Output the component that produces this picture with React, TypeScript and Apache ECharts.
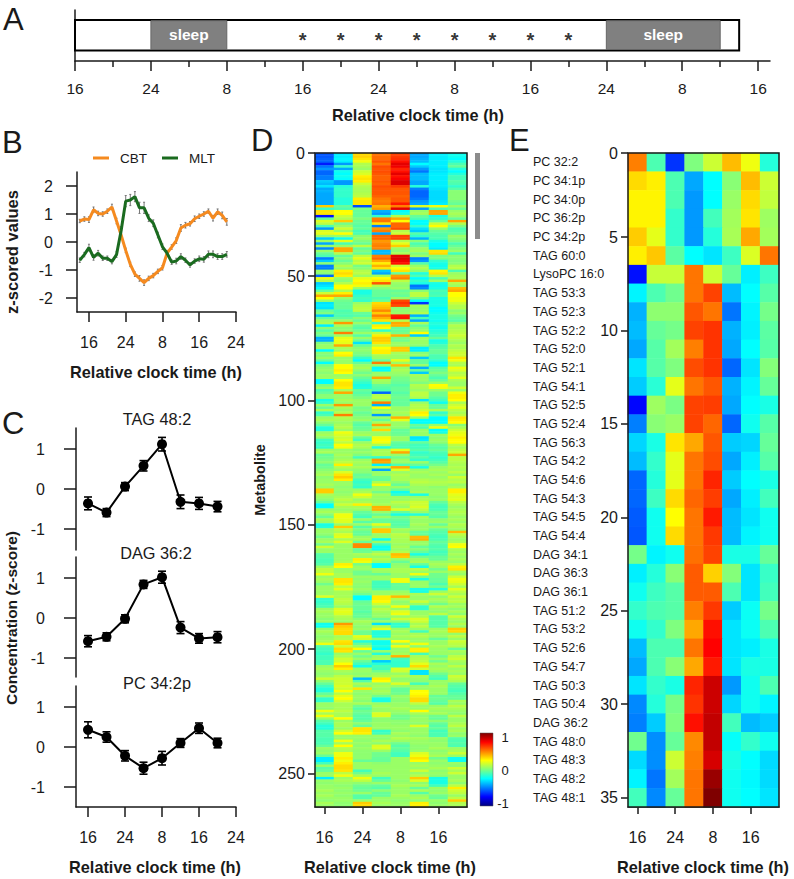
import React, { useEffect, useRef } from "react";
import * as echarts from "echarts";

const FONT = "'Liberation Sans', Arial, sans-serif";
const INK = "#1a1a1a";

// Panel A
const scheduleTicks = [16, 24, 32, 40, 48, 56, 64, 72, 80, 88];
const scheduleMinor = [20, 28, 36, 44, 52, 60, 68, 76, 84];
const scheduleSpan = [16, 86];
const sleepBlocks = [[24, 32], [72, 84]];
const starHours = [40, 44, 48, 52, 56, 60, 64, 68];

// Panel B
const rhythmHours = [14,15,16,17,18,19,20,21,22,23,24,25,26,27,28,29,30,31,32,33,34,35,36,37,38,39,40,41,42,43,44,45,46];
const cbt = [0.75,0.82,0.8,1.15,1.02,1.0,1.1,1.25,0.75,0.25,-0.3,-0.8,-1.15,-1.3,-1.45,-1.3,-1.2,-1.05,-0.92,-0.4,-0.18,0.05,0.5,0.6,0.65,0.83,0.92,1.0,1.1,0.85,1.08,0.95,0.72];
const mlt = [-0.65,-0.45,-0.2,-0.55,-0.4,-0.58,-0.58,-0.7,-0.45,0.4,1.46,1.5,1.62,1.22,1.22,0.85,0.67,0.25,-0.17,-0.4,-0.72,-0.68,-0.52,-0.65,-0.82,-0.68,-0.6,-0.62,-0.44,-0.44,-0.52,-0.52,-0.44];
const cbtErr = [0.06,0.08,0.1,0.1,0.08,0.08,0.08,0.1,0.1,0.08,0.08,0.08,0.08,0.1,0.1,0.08,0.08,0.08,0.08,0.1,0.08,0.1,0.12,0.1,0.08,0.1,0.08,0.08,0.08,0.1,0.1,0.12,0.12];
const mltErr = [0.08,0.08,0.12,0.1,0.1,0.08,0.08,0.08,0.1,0.15,0.2,0.2,0.18,0.2,0.2,0.12,0.12,0.1,0.1,0.08,0.08,0.1,0.1,0.08,0.08,0.08,0.1,0.1,0.12,0.12,0.1,0.1,0.1];
const rhythmTicks = [16, 24, 32, 40, 48];

// Panel C
const sampleHours = [16, 20, 24, 28, 32, 36, 40, 44];
const tag482 = [-0.36,-0.59,0.06,0.58,1.12,-0.32,-0.36,-0.44];
const tag482Err = [0.16,0.1,0.1,0.13,0.17,0.17,0.15,0.13];
const dag362 = [-0.58,-0.47,-0.02,0.84,1.02,-0.24,-0.51,-0.48];
const dag362Err = [0.14,0.1,0.1,0.1,0.15,0.15,0.12,0.14];
const pc342p = [0.43,0.25,-0.22,-0.53,-0.28,0.1,0.47,0.1];
const pc342pErr = [0.2,0.13,0.13,0.15,0.17,0.11,0.13,0.12];

// Panels D and E
const heatColumns = ["16", "", "24", "", "8", "", "16", ""];
const jetColors = ["#00007f", "#0000ff", "#007fff", "#00ffff", "#7fff7f", "#ffff00", "#ff7f00", "#ff0000", "#7f0000"];

// Panel D values, in hundredths of a z-score
const metabolitesA = [
[-58,-28,32,52,62,-42,-28,-22],[-58,-28,34,54,64,-42,-28,-22],[-56,-26,30,54,66,-40,-28,-25],[-55,-28,22,58,72,-38,-28,-18],[-70,-45,10,52,80,-25,-28,-10],
[-52,-15,8,60,78,-35,-28,-5],[-45,-42,5,58,68,-45,-30,-18],[-55,-22,15,60,72,-52,-30,-25],[-55,-25,18,58,80,-38,-28,-18],[-50,-22,28,56,72,-38,-28,-12],
[-50,-25,30,56,76,-38,-28,-12],[-35,-45,28,58,82,-42,-28,-8],[-38,-45,15,56,82,-42,-28,-10],[-30,-18,10,60,64,-18,-28,-15],[-42,-15,8,58,58,-50,-30,-8],
[-40,-15,8,58,58,-55,-32,2],[-42,-15,10,58,58,-55,-32,2],[-42,-15,12,56,56,-55,-32,2],[-42,-18,28,52,58,-52,-32,2],[-42,-18,30,50,58,-45,-30,-2],
[-42,-18,30,52,70,-42,-28,-5],[35,-5,-60,40,50,18,22,5],[-15,-10,0,45,80,-45,-10,-5],[30,25,-5,-40,-25,5,42,5],[30,25,-5,-45,-20,8,42,8],
[-72,15,-5,-15,10,-5,-20,5],[-5,10,0,50,42,-10,-15,-5],[18,35,-5,52,25,-25,-5,42],[12,-2,-5,30,55,-25,15,10],[-10,5,-8,-50,55,-15,25,0],
[-45,15,-5,45,60,-30,5,-10],[18,5,-12,50,10,-35,-5,-8],[20,25,-10,-42,15,-8,-8,-5],[5,5,2,55,62,-15,-10,5],[-35,-22,5,55,62,-40,-10,2],
[5,20,0,45,10,2,-20,-2],[-42,-10,-5,48,20,-10,-25,-10],[5,5,12,50,35,-5,-25,-5],[-48,42,-5,48,5,5,-28,0],[5,42,0,-38,2,8,30,5],
[-5,10,-5,-38,8,0,32,-12],[-10,-5,12,50,80,5,0,2],[-50,2,20,55,82,-50,0,2],[-35,-5,12,42,78,-45,-15,0],[2,2,15,28,72,-8,-20,2],
[-50,10,-2,40,15,5,-22,10],[-50,5,2,30,25,10,-20,12],[5,28,10,-35,30,3,27,-10],[2,32,12,-42,-5,-18,30,5],[-55,28,5,8,45,-10,10,8],
];
const metabolitesB = [
[22,5,20,25,50,-25,-10,8],[10,2,25,30,12,-15,5,42],[-35,10,28,58,5,-20,-20,10],[-30,25,22,10,3,-52,-22,5],[-25,25,5,2,5,-48,-20,38],
[-5,8,-20,-5,-5,2,-10,42],[15,28,-20,-5,-2,12,-12,25],[42,42,-15,-5,-5,12,-10,25],[25,5,-12,-10,5,-2,-20,22],[5,-3,-15,-5,60,-25,-20,22],
[-30,-5,5,32,65,-65,-20,15],[-28,-5,10,35,60,8,-20,10],[-30,-5,12,38,2,5,-25,10],[-5,-10,12,48,3,5,-25,2],[0,-8,-5,35,5,10,-22,5],
[-35,-10,-8,50,70,-40,-20,-2],[-5,-5,2,40,72,-10,-20,-5],[5,5,-5,30,10,-42,-22,-8],[8,45,5,-15,42,8,-18,2],[-28,8,-5,28,40,-5,-20,10],
[2,2,-8,25,-5,2,-22,8],[-8,3,-3,-15,-5,5,-18,10],[0,50,5,12,-2,25,-15,12],[-5,5,-8,28,40,-35,-12,15],[-40,20,5,35,0,8,-5,12],
[-40,22,-5,35,-3,5,-20,8],[0,20,-30,30,5,5,-18,5],[5,42,-5,12,5,3,-10,10],[5,8,2,25,35,-28,-8,8],[-25,5,3,28,35,-28,-5,12],
[2,25,0,28,8,2,-5,15],[0,28,-3,8,5,5,-10,15],[5,5,-15,5,5,-35,-10,30],[-5,5,-25,-5,20,-5,-15,22],[-25,5,-5,50,5,-5,-25,10],
[-2,25,5,5,38,5,-25,8],[3,25,8,-25,5,-40,-8,22],[5,28,3,-25,8,-5,-5,18],[2,25,-3,5,5,-35,0,10],[5,5,3,5,3,8,-5,12],
[5,8,-5,42,-2,5,-10,20],[-25,25,-10,8,-3,5,-5,8],[-25,30,-15,5,-5,0,5,5],[0,30,-20,-5,-8,10,25,5],[5,28,-18,-8,-5,8,22,15],
[-10,8,-5,-10,-5,5,5,5],[-5,42,-8,-55,-8,12,-3,22],[2,5,-5,10,-5,12,-3,28],[2,5,0,12,-3,8,-8,28],[-20,8,5,5,-5,-30,-12,25],
];
const metabolitesC = [
[-15,5,5,50,-5,5,-22,8],[5,45,5,-40,-5,10,-5,15],[-5,8,-2,25,5,10,-5,20],[8,5,0,5,5,15,8,12],[-15,10,-5,8,8,28,-15,8],
[-10,50,-2,-45,5,25,-8,12],[5,10,2,5,40,5,-25,30],[8,8,5,-5,20,-25,-25,28],[2,5,-5,8,5,-25,-25,25],[-5,8,-8,42,5,-5,5,2],
[-18,10,-5,8,3,-10,22,8],[-18,5,-3,32,-5,5,-25,15],[5,22,5,5,-5,5,-20,20],[8,18,8,5,-3,5,5,22],[3,15,-5,22,5,-30,3,28],
[-12,18,-12,25,5,-28,5,25],[-15,12,5,22,-5,-5,3,25],[-12,25,10,8,-8,-12,-5,12],[-15,22,8,-18,-10,-12,-8,8],[5,5,2,8,20,-8,-5,12],
[8,5,5,8,42,-15,-10,15],[-5,8,0,8,5,-12,-12,42],[-3,5,-12,-15,-3,-8,-15,12],[0,8,5,45,5,-15,-12,12],[3,12,8,42,5,5,-8,10],
[-5,28,5,-28,-10,-5,-2,8],[-3,10,8,10,42,-20,5,10],[2,5,3,-42,18,5,8,8],[5,18,2,5,5,8,5,12],[8,30,-5,5,10,5,8,5],
[3,35,-3,-3,8,5,5,15],[5,28,-12,-5,8,10,8,10],[5,5,-15,8,3,12,10,12],[8,5,-12,22,-5,8,8,5],[5,3,-15,5,5,5,3,8],
[35,5,5,5,-5,5,5,28],[35,3,8,-3,-22,8,5,28],[8,5,22,8,-15,-20,5,20],[5,8,15,5,5,5,3,18],[2,12,5,5,5,8,5,20],
[-5,8,8,5,12,15,-5,12],[-25,15,28,8,8,15,-10,8],[-25,8,8,40,5,18,-12,5],[5,5,5,40,18,12,-10,8],[8,8,-5,5,-5,5,-5,10],
[2,22,-8,-5,-20,-18,-5,8],[-5,22,-12,5,-2,8,-8,5],[8,20,5,-5,-5,5,3,8],[5,18,-8,-5,-8,5,5,5],[-20,5,5,20,-8,8,-5,10],
];
const metabolitesD = [
[-18,35,-8,5,-5,5,5,8],[5,12,0,35,8,5,-5,5],[5,8,-5,35,5,-5,-8,38],[3,18,-5,5,12,-5,-10,12],[-3,20,5,5,10,38,-12,8],
[5,8,8,-22,8,40,-10,5],[8,18,-5,5,8,5,-5,8],[-3,5,48,-12,5,5,-8,22],[15,5,48,-22,8,-5,-10,25],[5,5,-5,-22,5,2,-8,8],
[5,5,-3,5,10,-5,-12,5],[-8,5,8,12,38,-20,-10,8],[-8,5,5,5,35,-3,-5,5],[-10,5,28,10,5,5,-5,8],[-10,8,22,5,-5,8,5,5],
[-8,28,-2,-25,3,-5,8,12],[5,25,5,-25,5,-20,5,28],[12,5,5,8,8,12,-3,30],[12,5,-3,5,8,5,5,8],[22,8,-3,-5,5,22,-3,5],
[5,8,5,5,5,-2,-3,15],[8,30,3,5,22,-20,-5,22],[5,30,5,-12,22,5,-5,20],[-3,28,3,-12,-5,5,-10,15],[5,12,2,-12,-5,5,-3,8],
[5,20,5,-8,-5,-20,-18,20],[5,8,2,5,5,-20,5,12],[5,8,-3,5,8,8,15,8],[18,8,-25,28,38,5,3,15],[-15,12,-25,28,10,5,8,10],
[-15,12,-5,26,3,15,5,12],[-12,10,-3,15,5,5,-3,5],[-10,5,-5,5,22,-15,10,8],[5,18,-5,12,5,-15,5,3],[8,20,-8,8,18,5,3,8],
[5,18,-5,5,22,5,12,3],[5,10,-5,5,5,8,-8,15],[2,8,2,-5,15,18,-8,8],[5,5,8,5,3,15,-8,5],[-22,45,5,-30,-15,8,-8,10],
[-22,35,3,8,-15,12,-8,5],[3,32,5,20,5,5,5,35],[8,32,-3,-18,8,-12,8,32],[5,32,-3,-18,5,8,5,5],[3,8,20,-18,8,10,5,12],
[5,10,15,5,5,5,-5,5],[8,30,-18,-22,25,5,5,15],[22,32,-5,-22,5,22,5,12],[-8,15,5,-18,22,3,8,10],[-12,32,25,-25,5,28,5,-5],
];
const metabolitesE = [
[-12,30,-5,5,5,28,5,8],[-15,5,5,-18,8,-12,5,5],[-12,8,-3,5,40,8,-3,12],[-12,15,5,8,-12,10,5,15],[-10,15,-5,-35,-15,12,-3,8],
[-10,25,-12,-18,-15,20,8,5],[5,35,-22,-10,-15,32,5,12],[8,28,5,-12,18,15,8,5],[5,8,5,-3,15,-30,5,8],[3,5,3,5,5,-30,-3,5],
[5,12,5,8,10,8,-8,15],[15,15,-38,28,3,5,-12,12],[3,15,-8,25,5,3,5,8],[-5,15,8,5,18,-12,5,-5],[-12,18,3,8,5,5,8,-8],
[-18,15,30,5,-5,5,5,-10],[-18,25,5,8,-5,25,5,-12],[-5,12,3,5,-3,25,5,-8],[2,20,5,-3,5,28,-5,-5],[-15,25,5,-20,3,32,-3,-5],
[-15,15,2,-20,2,32,-5,8],[5,8,8,5,5,12,-8,5],[5,8,-3,8,5,5,5,12],[3,8,-8,5,8,5,8,8],[22,12,-3,5,5,25,5,5],
[8,8,-5,18,3,8,8,3],[22,8,-8,18,-3,3,-3,12],[5,25,-8,3,-3,5,-5,5],[-8,5,-5,3,3,5,3,5],[-12,8,3,5,3,3,-5,8],
[-18,8,-5,5,5,18,-8,12],[-18,5,30,5,5,5,-5,5],[-8,15,30,-15,3,5,-12,8],[-8,25,28,-12,8,5,-10,3],[-8,5,5,5,5,3,-10,5],
[-10,5,5,3,10,8,5,-8],[-10,22,3,8,5,5,3,-10],[-10,8,5,3,-3,5,5,-8],[-5,25,3,18,-8,3,5,-10],[5,10,5,18,-5,3,8,5],
[3,8,3,5,-8,5,3,8],[5,22,3,-3,-12,18,5,15],[-5,22,3,-3,-12,22,8,5],[-28,28,3,-5,5,30,-3,-22],[-28,22,-5,-5,5,25,5,-22],
[-12,28,5,3,5,5,3,5],[5,32,5,5,5,8,5,3],[-8,32,5,5,5,5,8,15],[-5,30,-12,5,5,15,3,8],[5,12,-3,8,5,5,5,15],
];
const metabolitesF = [
[5,22,8,5,5,10,3,5],[-28,5,22,-12,5,35,-20,5],[5,8,12,-5,3,18,-20,8],[3,5,3,5,5,3,-20,3],[5,3,-3,-5,8,8,-12,12],
[5,5,-5,-8,5,-5,5,28],[8,3,-3,3,5,8,3,15],[5,5,5,-5,5,-8,5,12],[8,3,-8,-5,8,5,-3,5],[5,5,-8,5,5,8,-5,12],
[3,5,5,5,3,3,5,35],[8,3,35,8,5,28,3,10],[5,3,32,5,5,28,5,8],
];
const metaboliteRows = [...metabolitesA, ...metabolitesB, ...metabolitesC, ...metabolitesD, ...metabolitesE, ...metabolitesF];
const metaboliteTicks = [0.5, 50, 100, 150, 200, 250];

// Panel E
const lipidNames = ["PC 32:2","PC 34:1p","PC 34:0p","PC 36:2p","PC 34:2p","TAG 60:0","LysoPC 16:0","TAG 53:3","TAG 52:3","TAG 52:2","TAG 52:0","TAG 52:1","TAG 54:1","TAG 52:5","TAG 52:4","TAG 56:3","TAG 54:2","TAG 54:6","TAG 54:3","TAG 54:5","TAG 54:4","DAG 34:1","DAG 36:3","DAG 36:1","TAG 51:2","TAG 53:2","TAG 52:6","TAG 54:7","TAG 50:3","TAG 50:4","DAG 36:2","TAG 48:0","TAG 48:3","TAG 48:2","TAG 48:1"];
const lipidRows = [
[50,-10,-65,0,15,38,22,-18],[32,28,-10,-42,-25,2,38,15],[27,27,-10,-45,-25,5,32,13],[27,27,-15,-45,-12,7,30,6],[35,20,-15,-45,-18,8,42,7],
[28,36,-7,-25,-30,-13,18,52],[-72,14,14,52,15,-5,-28,-13],[-27,-10,-3,52,62,-38,-25,-8],[-40,3,3,58,52,-52,-27,-2],[-38,-5,-2,62,65,-40,-28,-7],
[-42,-8,7,50,65,-42,-25,-8],[-30,-8,0,60,65,-55,-30,1],[-35,-17,20,52,58,-40,-27,-5],[-74,6,-1,62,63,-42,-25,-20],[-50,2,5,62,55,-55,-22,-8],
[-33,-20,30,42,58,-35,-33,-5],[-38,-15,20,52,60,-42,-28,-8],[-55,-18,20,52,68,-35,-25,-20],[-55,-13,32,55,63,-42,-28,-12],[-57,-22,25,52,70,-38,-30,-22],
[-58,-22,32,52,64,-38,-27,-22],[-2,-27,-22,53,62,-20,-20,-5],[-28,-18,2,57,34,1,-30,-14],[-22,-13,-8,57,57,-10,-30,-12],[-15,-10,-8,50,64,-35,-23,-2],
[-22,-15,0,42,72,-30,-23,-10],[-38,-10,-10,52,75,-30,-28,-20],[-42,-10,2,42,70,-30,-20,-20],[-30,-15,-20,68,85,-45,-22,-10],[-48,-18,-2,65,85,-33,-22,-27],
[-50,-35,0,72,87,-12,-38,-35],[-3,-47,-5,48,87,-24,-15,-22],[-32,-47,15,50,83,-20,-25,-32],[-27,-52,7,52,95,-22,-26,-32],[-12,-48,-5,52,100,-22,-25,-30],
];
const lipidTicks = [0.5, 5, 10, 15, 20, 25, 30, 35];
const colorbarTicks = ["1", "0", "-1"];

const clockLabel = (h: number) => String(h % 24 === 0 ? 24 : h % 24);
const rowLabel = (v: number) => String(v < 1 ? 0 : v);
const toHeat = (rows: number[][]) => rows.flatMap((r, y) => r.map((v, x) => [x, y, v / 100]));
const withErrors = (xs: number[], ys: number[], es: number[]) => xs.map((x, i) => [x, ys[i] - es[i], ys[i] + es[i]]);

const axisLine = { show: true, onZero: false, lineStyle: { color: INK, width: 1.5 } };
const tickStyle = { color: INK, width: 1.5 };
const tickText = { color: INK, fontFamily: FONT, fontSize: 16 };

const clockAxis = (gridIndex: number, visible: boolean) => ({
  type: "value", gridIndex, min: 13.4, max: 48, show: visible, splitLine: { show: false },
  axisLine,
  axisTick: { show: true, customValues: rhythmTicks, length: 10, lineStyle: tickStyle },
  axisLabel: { show: true, customValues: rhythmTicks, margin: 22, formatter: clockLabel, ...tickText },
});
const zAxis = (gridIndex: number, min: number, max: number, ticks: number[], tick: number, margin: number) => ({
  type: "value", gridIndex, min, max, splitLine: { show: false },
  axisLine,
  axisTick: { show: true, customValues: ticks, length: tick, lineStyle: tickStyle },
  axisLabel: { show: true, customValues: ticks, margin, ...tickText },
});
const heatX = (gridIndex: number) => ({
  type: "category", gridIndex, data: heatColumns, splitLine: { show: false },
  axisLine,
  axisTick: { show: true, alignWithLabel: true, interval: (i: number) => i % 2 === 0, length: 7, lineStyle: tickStyle },
  axisLabel: { show: true, interval: 0, margin: 22, ...tickText },
});
const rowTickAxis = (gridIndex: number, rows: number, ticks: number[]) => ({
  type: "value", gridIndex, min: 0.5, max: rows + 0.5, inverse: true, position: "left", splitLine: { show: false },
  axisLine: { show: false },
  axisTick: { show: true, customValues: ticks, length: 7, lineStyle: tickStyle },
  axisLabel: { show: true, customValues: ticks, margin: 10, formatter: rowLabel, ...tickText },
});

const errorBars = (name: string, xAxisIndex: number, yAxisIndex: number, data: number[][], color: string, cap: number, width: number) => ({
  type: "custom", name, xAxisIndex, yAxisIndex, data, encode: { x: 0, y: [1, 2] }, z: 2,
  renderItem: (_: unknown, api: any) => {
    const lo = api.coord([api.value(0), api.value(1)]);
    const hi = api.coord([api.value(0), api.value(2)]);
    const seg = (x1: number, y1: number, x2: number, y2: number) => ({
      type: "line", shape: { x1, y1, x2, y2 }, style: { stroke: color, lineWidth: width },
    });
    return {
      type: "group",
      children: [
        seg(lo[0], lo[1], hi[0], hi[1]),
        seg(lo[0] - cap, lo[1], lo[0] + cap, lo[1]),
        seg(hi[0] - cap, hi[1], hi[0] + cap, hi[1]),
      ],
    };
  },
});

const profile = (name: string, xAxisIndex: number, yAxisIndex: number, ys: number[], es: number[]) => [
  errorBars(name + " error", xAxisIndex, yAxisIndex, withErrors(sampleHours, ys, es), "#000", 4, 1.6),
  {
    type: "line", name, xAxisIndex, yAxisIndex, data: sampleHours.map((h, i) => [h, ys[i]]), z: 3,
    symbol: "circle", symbolSize: 10, showSymbol: true,
    lineStyle: { color: "#000", width: 2 }, itemStyle: { color: "#000" },
  },
];

const label = (text: string, x: number, y: number, o: any = {}) => ({
  type: "text", x, y, rotation: o.rotation ?? 0, z: 50,
  style: {
    text, fill: o.fill ?? INK, fontFamily: FONT, fontSize: o.size ?? 15,
    fontWeight: o.weight ?? "normal", align: o.align ?? "center", verticalAlign: "middle",
  },
});
const outline = (x: number, y: number, width: number, height: number) => ({
  type: "rect", z: 40, shape: { x, y, width, height }, style: { fill: "none", stroke: INK, lineWidth: 1.5 },
});

export default function App() {
  const ref = useRef<HTMLDivElement>(null);
  useEffect(() => {
    const chart = echarts.init(ref.current!, undefined, { renderer: "svg" });
    const title = "Relative clock time (h)";
    chart.setOption({
      animation: false,
      backgroundColor: "#fff",
      grid: [
        { left: 75, top: 10, width: 695, height: 51 },
        { left: 77, top: 172, width: 159, height: 140 },
        { left: 76, top: 428, width: 160, height: 122 },
        { left: 76, top: 557, width: 160, height: 120 },
        { left: 76, top: 686, width: 160, height: 121 },
        { left: 315, top: 153, width: 152, height: 654 },
        { left: 628, top: 153, width: 151, height: 654 },
      ],
      legend: {
        left: 88, top: 146, itemWidth: 16, itemHeight: 3, itemGap: 15, icon: "rect",
        data: ["CBT", "MLT"],
        textStyle: { color: INK, fontFamily: FONT, fontSize: 13.5, padding: [0, 0, 0, 6] },
      },
      visualMap: {
        show: false, type: "continuous", min: -1, max: 1, dimension: 2, seriesIndex: [0, 1],
        inRange: { color: jetColors },
      },
      xAxis: [
        {
          type: "value", gridIndex: 0, min: 16, max: 89.25, splitLine: { show: false },
          axisLine,
          axisTick: { show: true, customValues: scheduleTicks, length: 10, lineStyle: tickStyle },
          axisLabel: { show: true, customValues: scheduleTicks, margin: 19, formatter: clockLabel, ...tickText, fontSize: 15.5 },
        },
        {
          type: "value", gridIndex: 0, min: 16, max: 89.25, position: "bottom", splitLine: { show: false },
          axisLine: { show: false },
          axisTick: { show: true, customValues: scheduleMinor, length: 6, lineStyle: tickStyle },
          axisLabel: { show: false },
        },
        clockAxis(1, true),
        clockAxis(2, false),
        clockAxis(3, false),
        clockAxis(4, true),
        heatX(5),
        heatX(6),
      ],
      yAxis: [
        { type: "value", gridIndex: 0, min: 0, max: 1, splitLine: { show: false }, axisLine, axisTick: { show: false }, axisLabel: { show: false } },
        zAxis(1, -2.5, 2.5, [-2, -1, 0, 1, 2], 11, 24),
        zAxis(2, -1.525, 1.525, [-1, 0, 1], 12, 31),
        zAxis(3, -1.475, 1.525, [-1, 0, 1], 12, 31),
        zAxis(4, -1.5, 1.525, [-1, 0, 1], 12, 31),
        { type: "category", gridIndex: 5, inverse: true, data: metaboliteRows.map((_, i) => i), show: false },
        rowTickAxis(5, metaboliteRows.length, metaboliteTicks),
        {
          type: "category", gridIndex: 6, inverse: true, data: lipidNames,
          axisLine: { show: false }, axisTick: { show: false },
          axisLabel: { show: true, interval: 0, align: "left", margin: 95, color: INK, fontFamily: FONT, fontSize: 12.5 },
        },
        rowTickAxis(6, lipidRows.length, lipidTicks),
      ],
      series: [
        { type: "heatmap", name: "Metabolites", xAxisIndex: 6, yAxisIndex: 5, data: toHeat(metaboliteRows), progressive: 0 },
        { type: "heatmap", name: "Lipids", xAxisIndex: 7, yAxisIndex: 7, data: toHeat(lipidRows), progressive: 0 },
        {
          type: "custom", name: "schedule", xAxisIndex: 0, yAxisIndex: 0, z: 2,
          data: [[scheduleSpan[0], scheduleSpan[1]]], encode: { x: [0, 1] },
          renderItem: (_: unknown, api: any) => {
            const a = api.coord([api.value(0), 0.806]);
            const b = api.coord([api.value(1), 0.206]);
            return { type: "rect", shape: { x: a[0], y: a[1], width: b[0] - a[0], height: b[1] - a[1] }, style: { fill: "#fff", stroke: "#000", lineWidth: 2 } };
          },
        },
        {
          type: "custom", name: "sleep", xAxisIndex: 0, yAxisIndex: 0, z: 3,
          data: sleepBlocks, encode: { x: [0, 1] },
          renderItem: (_: unknown, api: any) => {
            const a = api.coord([api.value(0), 0.79]);
            const b = api.coord([api.value(1), 0.225]);
            return {
              type: "group",
              children: [
                { type: "rect", shape: { x: a[0], y: a[1], width: b[0] - a[0], height: b[1] - a[1] }, style: { fill: "#808080", stroke: "#666", lineWidth: 1 } },
                { type: "text", x: (a[0] + b[0]) / 2, y: (a[1] + b[1]) / 2 - 0.5, style: { text: "sleep", fill: "#fff", fontFamily: FONT, fontSize: 15.5, fontWeight: "bold", align: "center", verticalAlign: "middle" } },
              ],
            };
          },
        },
        {
          type: "scatter", name: "stars", xAxisIndex: 0, yAxisIndex: 0, z: 4, symbolSize: 0,
          data: starHours.map((h) => [h, 0.41]),
          label: { show: true, position: "inside", formatter: "*", color: "#000", fontFamily: FONT, fontWeight: "bold", fontSize: 20 },
        },
        errorBars("CBT error", 2, 1, withErrors(rhythmHours, cbt, cbtErr), "#777", 1, 1),
        errorBars("MLT error", 2, 1, withErrors(rhythmHours, mlt, mltErr), "#777", 1, 1),
        { type: "line", name: "CBT", xAxisIndex: 2, yAxisIndex: 1, z: 3, data: rhythmHours.map((h, i) => [h, cbt[i]]), showSymbol: false, symbol: "none", lineStyle: { color: "#f58a1f", width: 3 }, itemStyle: { color: "#f58a1f" } },
        { type: "line", name: "MLT", xAxisIndex: 2, yAxisIndex: 1, z: 3, data: rhythmHours.map((h, i) => [h, mlt[i]]), showSymbol: false, symbol: "none", lineStyle: { color: "#1a6b1f", width: 3 }, itemStyle: { color: "#1a6b1f" } },
        ...profile("TAG 48:2", 3, 2, tag482, tag482Err),
        ...profile("DAG 36:2", 4, 3, dag362, dag362Err),
        ...profile("PC 34:2p", 5, 4, pc342p, pc342pErr),
      ],
      graphic: [
        label("A", 3, 19, { size: 31, align: "left" }),
        label("B", 2, 142, { size: 31, align: "left" }),
        label("C", 2, 423, { size: 31, align: "left" }),
        label("D", 251, 140, { size: 31, align: "left" }),
        label("E", 509, 140, { size: 31, align: "left" }),
        label(title, 418, 115, { weight: "bold", size: 16.3 }),
        label(title, 156, 372, { weight: "bold", size: 16.3 }),
        label(title, 155, 867, { weight: "bold", size: 16.3 }),
        label(title, 390, 867, { weight: "bold", size: 16.3 }),
        label(title, 703, 867, { weight: "bold", size: 16.3 }),
        label("z-scored values", 12, 252, { weight: "bold", size: 16.5, rotation: Math.PI / 2 }),
        label("Concentration (z-score)", 11, 618, { weight: "bold", size: 15.5, rotation: Math.PI / 2 }),
        label("Metabolite", 260, 480, { weight: "bold", size: 14.5, rotation: Math.PI / 2 }),
        label("TAG 48:2", 157, 419, { size: 16.3 }),
        label("DAG 36:2", 156, 553, { size: 16.3 }),
        label("PC 34:2p", 157, 683, { size: 16.3 }),
        outline(315, 153, 152, 654),
        outline(628, 153, 151, 654),
        { type: "rect", z: 40, shape: { x: 475, y: 153, width: 5, height: 86 }, style: { fill: "#8c8c8c" } },
        {
          type: "rect", z: 40, shape: { x: 480, y: 733, width: 13, height: 73 },
          style: {
            stroke: "#555", lineWidth: 0.5,
            fill: new echarts.graphic.LinearGradient(0, 0, 0, 1, jetColors.slice().reverse().map((color, i) => ({ offset: i / (jetColors.length - 1), color }))),
          },
        },
        label(colorbarTicks[0], 505, 737, { size: 13 }),
        label(colorbarTicks[1], 505, 770, { size: 13 }),
        label(colorbarTicks[2], 503, 803, { size: 13 }),
      ],
    });
    return () => chart.dispose();
  }, []);
  return <div ref={ref} style={{ position: "absolute", left: 0, top: 0, width: 794, height: 879 }} />;
}
